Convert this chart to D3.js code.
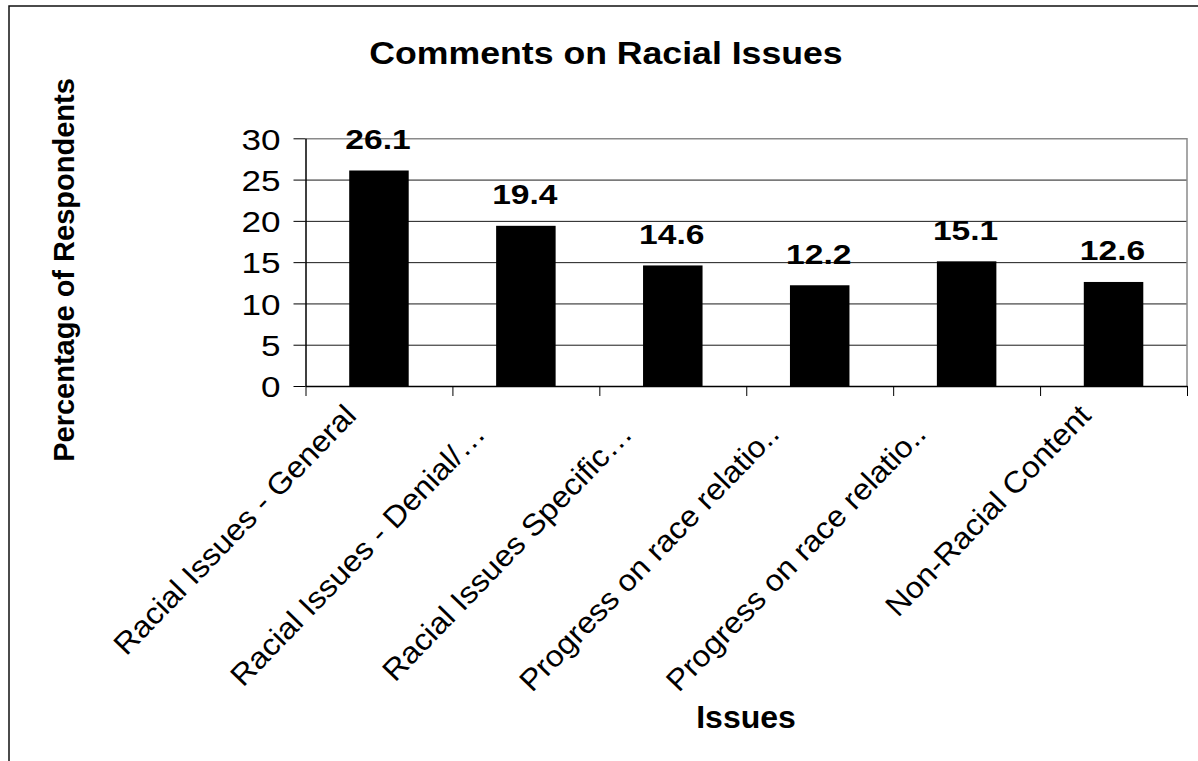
<!DOCTYPE html>
<html>
<head>
<meta charset="utf-8">
<script src="https://cdn.jsdelivr.net/npm/d3@7"></script>
<style>
  html, body { margin: 0; padding: 0; background: #fff; }
  svg { display: block; }
  text { font-family: "Liberation Sans", Arial, Helvetica, sans-serif; fill: #000; }
</style>
</head>
<body>
<svg id="chart" width="1198" height="761"></svg>
<script>
// Chart data
const categories = [
  "Racial Issues - General",
  "Racial Issues - Denial/…",
  "Racial Issues Specific…",
  "Progress on race relatio..",
  "Progress on race relatio..",
  "Non-Racial Content"
];
const values = [26.1, 19.4, 14.6, 12.2, 15.1, 12.6];
const yTicks = [0, 5, 10, 15, 20, 25, 30];
const chartTitle = "Comments on Racial Issues";
const xTitle = "Issues";
const yTitle = "Percentage of Respondents";

const svg = d3.select("#chart");

// Plot area
const plot = { left: 305.5, right: 1187, top: 138.3, bottom: 386 };
const plotW = plot.right - plot.left;
const plotH = plot.bottom - plot.top;

const x = d3.scaleBand()
  .domain(d3.range(categories.length))
  .range([0, plotW])
  .padding(0);
const xEdges = d3.scaleLinear().domain([0, categories.length]).range([0, plotW]);
const y = d3.scaleLinear().domain([0, 30]).range([plotH, 0]);
const barFrac = 0.405;

// Outer chart frame (top and left edges visible)
svg.append("rect")
  .attr("x", 9).attr("y", 6)
  .attr("width", 1400).attr("height", 900)
  .attr("fill", "none").attr("stroke", "#111").attr("stroke-width", 1.5);

const g = svg.append("g").attr("transform", `translate(${plot.left},${plot.top})`);

// Horizontal gridlines
g.append("g")
  .call(d3.axisLeft(y).tickValues(yTicks.filter(v => v > 0 && v < 30)).tickSize(-plotW).tickFormat(""))
  .call(s => s.select(".domain").remove())
  .call(s => s.selectAll("line").attr("stroke", "#1a1a1a").attr("stroke-width", 1));

// Plot border (top and right)
g.append("path")
  .attr("d", `M0,0.5H${plotW}V${plotH}`)
  .attr("fill", "none").attr("stroke", "#8a8a8a").attr("stroke-width", 1.5);

// Bars
g.selectAll("rect.bar")
  .data(values)
  .join("rect")
  .attr("class", "bar")
  .attr("x", (d, i) => x(i) + x.bandwidth() * (1 - barFrac) / 2)
  .attr("width", x.bandwidth() * barFrac)
  .attr("y", d => y(d))
  .attr("height", d => y(0) - y(d))
  .attr("fill", "#000");

// Value labels
g.selectAll("text.val")
  .data(values)
  .join("text")
  .attr("class", "val")
  .attr("text-anchor", "middle")
  .attr("font-weight", "bold")
  .attr("font-size", 28)
  .attr("transform", (d, i) => `translate(${x(i) + x.bandwidth() / 2 - 1},${y(d) - 21.5}) scale(1.2,1)`)
  .text(d => d.toFixed(1));

// Y axis
const yAxis = g.append("g")
  .call(d3.axisLeft(y).tickValues(yTicks).tickSize(12).tickSizeOuter(0).tickPadding(0))
  .call(s => s.select(".domain").attr("stroke", "#000").attr("stroke-width", 1.5))
  .call(s => s.selectAll(".tick line").attr("stroke", "#000").attr("stroke-width", 1));
yAxis.selectAll(".tick text")
  .attr("x", null).attr("dy", "0.36em")
  .attr("font-size", 30)
  .attr("text-anchor", "end")
  .attr("transform", "translate(-25,0) scale(1.17,1)")
  .attr("fill", "#000");

// X axis: boundary ticks
g.append("g")
  .attr("transform", `translate(0,${plotH})`)
  .call(d3.axisBottom(xEdges).tickValues(d3.range(categories.length + 1)).tickSize(10).tickFormat("").tickSizeOuter(0))
  .call(s => s.select(".domain").attr("stroke", "#000").attr("stroke-width", 1.5))
  .call(s => s.selectAll(".tick line").attr("stroke", "#000").attr("stroke-width", 1));

// X axis: rotated category labels; truncated labels keep a little room after the ellipsis
const xLab = g.append("g")
  .attr("transform", `translate(0,${plotH})`)
  .call(d3.axisBottom(x).tickSize(0).tickFormat(i => categories[i]))
  .call(s => s.select(".domain").remove());
xLab.selectAll(".tick text")
  .attr("y", null).attr("dy", null)
  .attr("font-size", 30)
  .attr("text-anchor", "end")
  .attr("x", i => /(…|\.\.)$/.test(categories[i]) ? -24 : 0)
  .attr("transform", "translate(-21,31) rotate(-46) scale(1.07,1)")
  .attr("fill", "#000");

// Titles
svg.append("text")
  .attr("text-anchor", "middle")
  .attr("font-weight", "bold")
  .attr("font-size", 31)
  .attr("transform", "translate(606,64) scale(1.15,1)")
  .text(chartTitle);

svg.append("text")
  .attr("text-anchor", "middle")
  .attr("font-weight", "bold")
  .attr("font-size", 32)
  .attr("transform", "translate(746,728)")
  .text(xTitle);

svg.append("text")
  .attr("text-anchor", "middle")
  .attr("font-weight", "bold")
  .attr("font-size", 29)
  .attr("transform", "translate(74,270) rotate(-90)")
  .text(yTitle);
</script>
</body>
</html>
